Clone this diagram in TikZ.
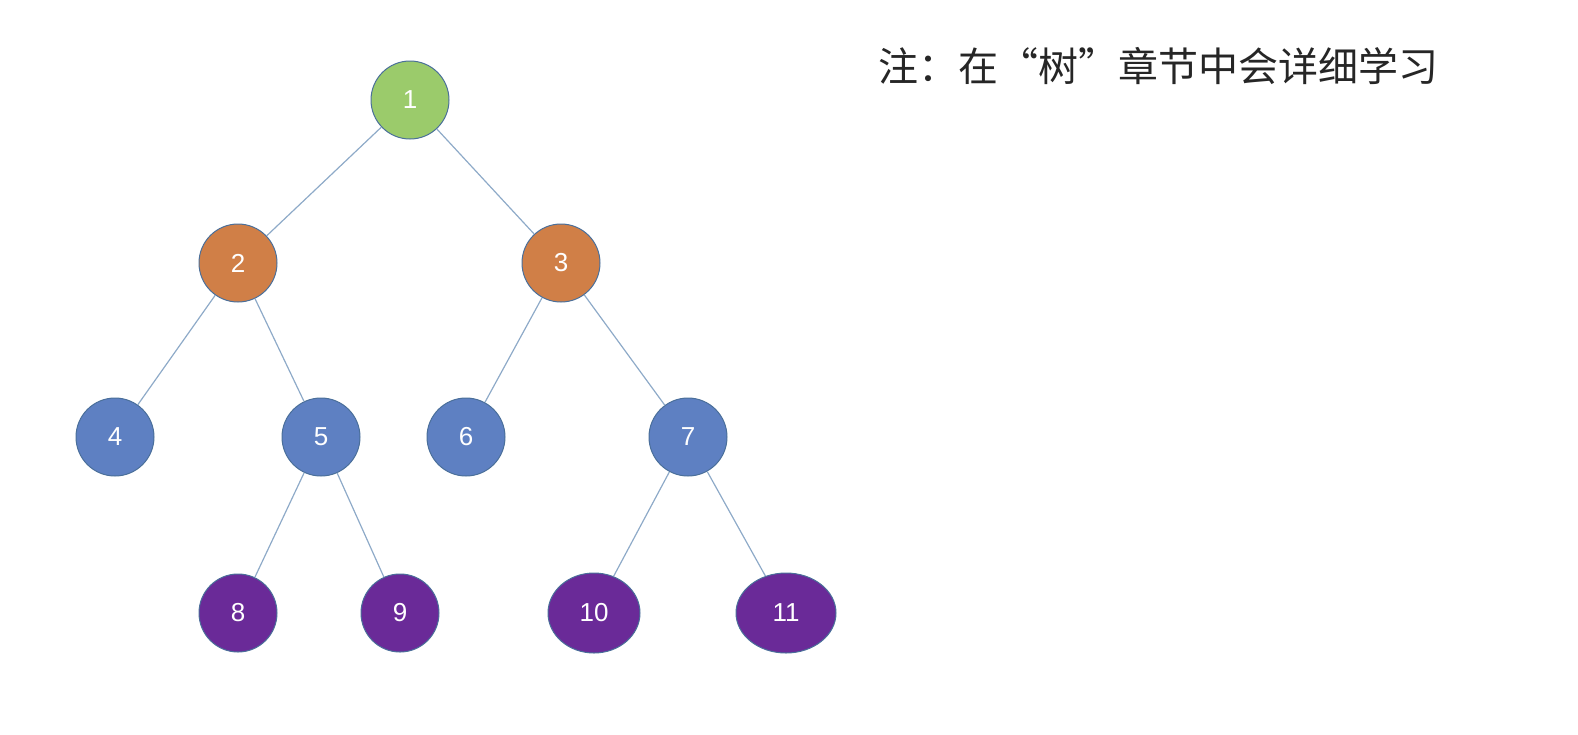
\documentclass[tikz,border=0pt]{standalone}
\usepackage{fontspec}
\setmainfont{Liberation Sans}
\newfontfamily\cjk{Noto Sans CJK SC}
\usetikzlibrary{shapes.geometric}
\definecolor{cg}{HTML}{9BCB6B}
\definecolor{co}{HTML}{D07F47}
\definecolor{cb}{HTML}{5E80C2}
\definecolor{cp}{HTML}{6A2A98}
\definecolor{cline}{HTML}{8EAAC8}
\definecolor{cbord}{HTML}{4A6F9A}
\begin{document}
\begin{tikzpicture}[x=0.5pt,y=-0.5pt,
 nd/.style={circle,draw=cbord,line width=0.5pt,minimum size=39pt,inner sep=0pt,text=white,font=\fontsize{13}{13}\selectfont},
 el/.style={nd,ellipse,minimum width=47pt,minimum height=40pt},
 ed/.style={draw=cline,line width=0.6pt}]
\useasboundingbox (0,0) rectangle (1578,734);
\node[nd,fill=cg] (n1) at (410,100) {1};
\node[nd,fill=co] (n2) at (238,263) {2};
\node[nd,fill=co] (n3) at (561,263) {3};
\node[nd,fill=cb] (n4) at (115,437) {4};
\node[nd,fill=cb] (n5) at (321,437) {5};
\node[nd,fill=cb] (n6) at (466,437) {6};
\node[nd,fill=cb] (n7) at (688,437) {7};
\node[nd,fill=cp] (n8) at (238,613) {8};
\node[nd,fill=cp] (n9) at (400,613) {9};
\node[el,fill=cp,minimum width=46pt] (n10) at (594,613) {10};
\node[el,fill=cp,minimum width=50pt] (n11) at (786,613) {11};
\draw[ed] (n1)--(n2) (n1)--(n3) (n2)--(n4) (n2)--(n5) (n3)--(n6) (n3)--(n7)
 (n5)--(n8) (n5)--(n9) (n7)--(n10) (n7)--(n11);
\node[anchor=west,inner sep=0pt,font=\cjk\fontsize{20}{20}\selectfont,text=black!85] (note) at (878,66) {注：在“树”章节中会详细学习};
\end{tikzpicture}
\end{document}
